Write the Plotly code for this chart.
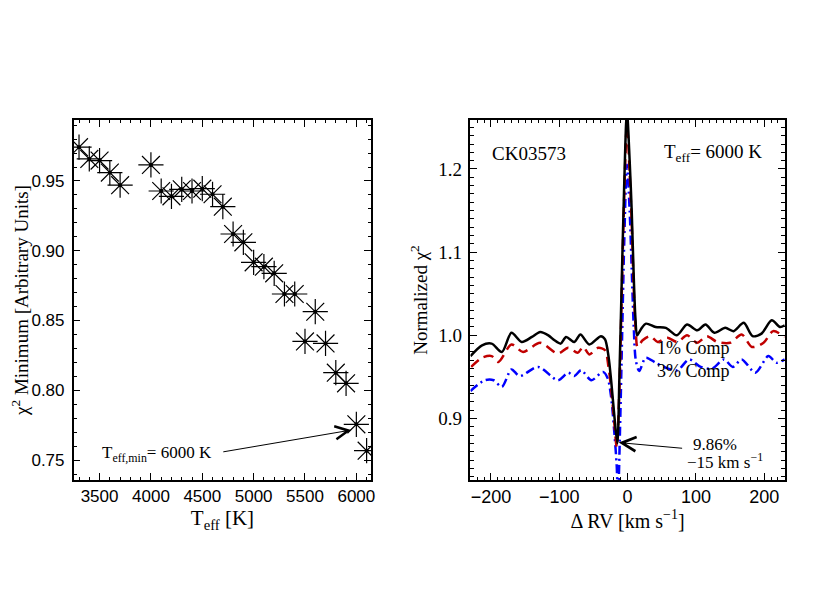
"""Chi-square minimum vs Teff and normalized chi-square vs delta RV, IDL-style."""

import plotly.graph_objects as go

# left panel: chi^2 minimum for each template temperature
teff = [3300, 3400, 3500, 3600, 3700, 4000, 4100, 4200, 4300, 4400, 4500, 4600, 4700,
        4800, 4900, 5000, 5100, 5200, 5300, 5400, 5500, 5600, 5700, 5800, 5900, 6000, 6100]
chi2_min = [0.9742, 0.9658, 0.9646, 0.9560, 0.9470, 0.9615, 0.9428, 0.9390, 0.9440, 0.9428,
            0.9445, 0.9405, 0.9316, 0.9120, 0.9060, 0.8917, 0.8886, 0.8838, 0.8690, 0.8690,
            0.8350, 0.8563, 0.8336, 0.8126, 0.8050, 0.7756, 0.7567]

# right panel: normalized chi^2 vs delta RV
rv_black = [-230, -213, -199, -184, -170, -155, -140, -128, -116, -107, -98, -90, -78, -69,
            -56, -39, -33, -28, -24, -19.5, -15, -12, -9, -5, -1, 3, 6, 9, 11.5, 14, 20, 27,
            41, 56, 72, 87, 102, 114, 127, 143, 155, 170, 183, 196, 211, 223, 230]
chi_black = [0.975, 0.988, 0.990, 0.980, 1.003, 0.992, 0.998, 1.004, 1.000, 0.994, 0.990,
             0.998, 0.992, 1.001, 0.989, 0.999, 0.995, 0.975, 0.945, 0.904, 0.870, 0.950,
             1.050, 1.180, 1.270, 1.210, 1.150, 1.070, 1.020, 1.000, 1.008, 1.014, 1.010,
             1.009, 1.000, 1.013, 1.006, 1.013, 1.003, 1.009, 1.005, 1.015, 0.999, 1.002,
             1.018, 1.010, 1.012]

rv_red = [-229, -213, -199, -189, -170, -153, -128, -102, -87, -73, -65, -56, -43, -33, -28,
          -24, -19.5, -16, -12, -9, -5, -1, 3, 6, 9, 12, 14.5, 22, 33, 44, 58, 73, 87, 102, 116,
          131, 150, 167, 182, 199, 213, 230]
chi_red = [0.962, 0.973, 0.975, 0.968, 0.989, 0.980, 0.991, 0.978, 0.985, 0.979, 0.986, 0.977,
           0.985, 0.982, 0.962, 0.935, 0.895, 0.866, 0.935, 1.035, 1.165, 1.253, 1.195, 1.135,
           1.055, 1.005, 0.986, 0.994, 0.999, 0.992, 0.997, 0.992, 1.000, 0.991, 0.999, 0.992,
           0.991, 1.001, 0.986, 0.991, 1.005, 0.998]

rv_blue = [-230, -209, -196, -184, -170, -158, -131, -102, -87, -78, -68, -53, -36, -29, -24,
           -19.5, -16, -14, -11, -8, -5, -1, 3, 6, 9, 12, 17, 26.6, 41, 56, 73, 90, 107, 124,
           141, 154, 167, 187, 206, 218, 230]
chi_blue = [0.933, 0.946, 0.946, 0.938, 0.959, 0.951, 0.962, 0.946, 0.955, 0.951, 0.958, 0.946,
            0.956, 0.948, 0.925, 0.884, 0.844, 0.805, 0.890, 1.000, 1.110, 1.205, 1.150, 1.080,
            1.010, 0.970, 0.957, 0.973, 0.967, 0.961, 0.958, 0.971, 0.962, 0.960, 0.971, 0.962,
            0.971, 0.955, 0.975, 0.967, 0.971]

SERIF = "Liberation Serif"
SANS = "Liberation Sans"

# page body adds an 8px margin, so the panels are placed 8px up/left of where they show
W, H, OFF = 830, 600, 8
left_dom = [(74 - OFF) / W, (373 - OFF) / W]
right_dom = [(472.7 - OFF) / W, (788.5 - OFF) / W]
y_dom = [1 - (480 - OFF) / H, 1 - (120 - OFF) / H]

fig = go.Figure()

fig.add_trace(go.Scatter(x=teff, y=chi2_min, mode="markers", xaxis="x", yaxis="y",
                         marker=dict(symbol="asterisk-open", size=21, color="black",
                                     line=dict(color="black", width=1.2))))
fig.add_trace(go.Scatter(x=teff, y=chi2_min, mode="markers", xaxis="x", yaxis="y",
                         marker=dict(symbol="circle", size=4, color="black")))

fig.add_trace(go.Scatter(x=rv_blue, y=chi_blue, mode="lines", xaxis="x2", yaxis="y2",
                         line=dict(color="#0000ff", width=2.5, dash="9px,4px,2px,4px",
                                   shape="spline", smoothing=0.8)))
fig.add_trace(go.Scatter(x=rv_red, y=chi_red, mode="lines", xaxis="x2", yaxis="y2",
                         line=dict(color="#c00000", width=2.5, dash="10px,6px",
                                   shape="spline", smoothing=0.8)))
fig.add_trace(go.Scatter(x=rv_black, y=chi_black, mode="lines", xaxis="x2", yaxis="y2",
                         line=dict(color="black", width=2.5, shape="spline", smoothing=0.8)))

axis_style = dict(showline=True, linecolor="black", linewidth=1.5, mirror="allticks",
                  ticks="inside", ticklen=7, tickwidth=1, tickcolor="black",
                  showgrid=False, zeroline=False,
                  minor=dict(ticks="inside", ticklen=3.5, tickwidth=1, tickcolor="black"))

fig.update_layout(
    width=W, height=H,
    margin=dict(l=0, r=0, t=0, b=0),
    paper_bgcolor="white", plot_bgcolor="white",
    showlegend=False,
    xaxis=dict(axis_style, domain=left_dom, range=[3248, 6145],
               tick0=3500, dtick=500, minor_dtick=100,
               tickfont=dict(family=SANS, size=17, color="black"),
               title=dict(text="T<sub>eff</sub> [K]", standoff=2,
                          font=dict(family=SERIF, size=21, color="black"))),
    yaxis=dict(axis_style, domain=y_dom, range=[0.7357, 0.9937],
               tick0=0.75, dtick=0.05, minor_dtick=0.01, tickformat=".2f",
               ticklabelstandoff=4,
               tickfont=dict(family=SANS, size=17, color="black"),
               title=dict(text="χ<sup>2</sup> Minimum [Arbitrary Units]", standoff=10,
                          font=dict(family=SERIF, size=19, color="black"))),
    xaxis2=dict(axis_style, domain=right_dom, range=[-230, 230],
                anchor="y2", tick0=0, dtick=100, minor_dtick=10,
                tickfont=dict(family=SANS, size=18, color="black"),
                title=dict(text="Δ RV [km s<sup>−1</sup>]", standoff=2,
                           font=dict(family=SERIF, size=20, color="black"))),
    yaxis2=dict(axis_style, domain=y_dom, range=[0.826, 1.2589], anchor="x2",
                tick0=0.9, dtick=0.1, minor_dtick=0.01, tickformat=".1f",
                ticklabelstandoff=3,
                tickfont=dict(family=SERIF, size=19, color="black"),
                title=dict(text="Normalized χ<sup>2</sup>", standoff=6,
                           font=dict(family=SERIF, size=19, color="black"))),
)

txt = dict(showarrow=False, xanchor="left", font=dict(family=SERIF, size=19, color="black"))

fig.add_annotation(x=5950, y=0.7715, ax=4690, ay=0.7557, xref="x", yref="y",
                   axref="x", ayref="y", text="", showarrow=True, arrowhead=5,
                   arrowsize=2.6, arrowwidth=1, arrowcolor="black")
fig.add_annotation(txt, x=3500, y=0.7543, xref="x", yref="y",
                   text="T<sub>eff,min</sub>= 6000 K", font_size=17)

fig.add_annotation(x=-13, y=0.871, ax=82, ay=0.864, xref="x2", yref="y2",
                   axref="x2", ayref="y2", text="", showarrow=True, arrowhead=5,
                   arrowsize=2.8, arrowwidth=1, arrowcolor="black")
fig.add_annotation(txt, x=128, y=0.8690, xref="x2", yref="y2", xanchor="center",
                   text="9.86%", font_size=17)
fig.add_annotation(txt, x=142.5, y=0.8485, xref="x2", yref="y2", xanchor="center",
                   text="−15 km s<sup>−1</sup>", font_size=17)
fig.add_annotation(txt, x=-202, y=1.219, xref="x2", yref="y2", text="CK03573")
fig.add_annotation(txt, x=51, y=1.219, xref="x2", yref="y2",
                   text="T<sub>eff</sub>= 6000 K")
fig.add_annotation(txt, x=40.7, y=0.9853, xref="x2", yref="y2", text="1% Comp",
                   font_size=18)
fig.add_annotation(txt, x=40.7, y=0.9565, xref="x2", yref="y2", text="3% Comp",
                   font_size=18)

fig.write_html("out.html")
